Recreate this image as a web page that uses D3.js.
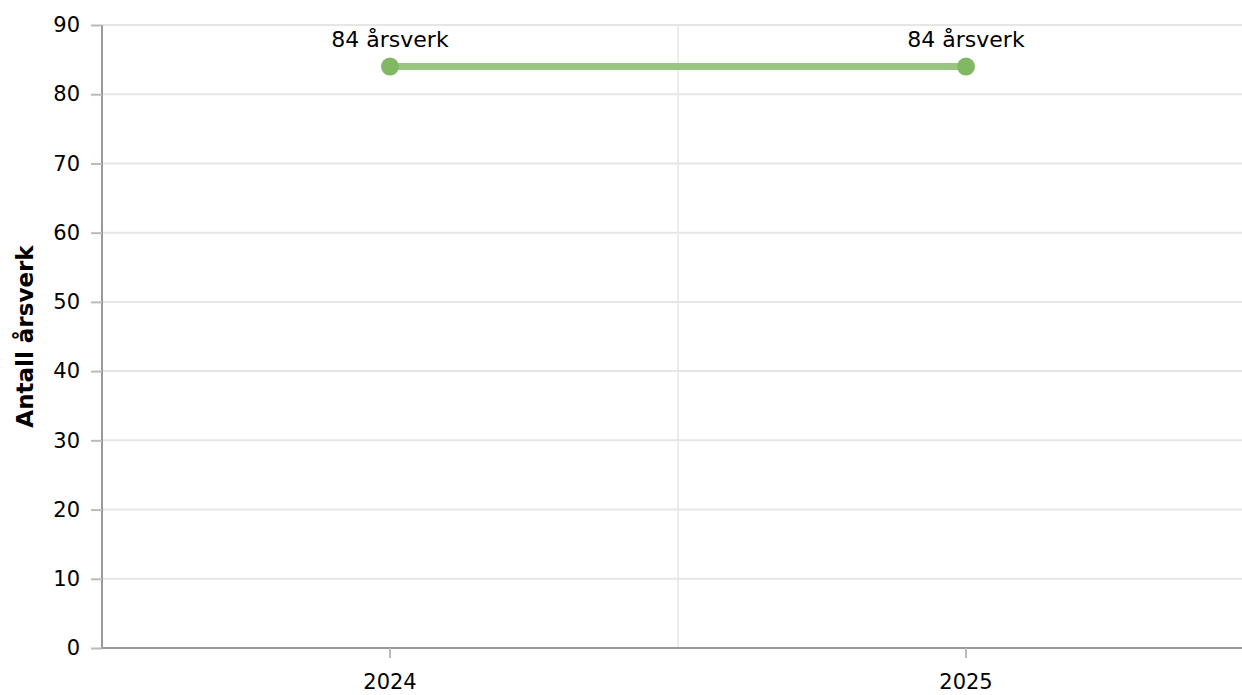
<!DOCTYPE html>
<html>
<head>
<meta charset="utf-8">
<script src="https://cdn.jsdelivr.net/npm/d3@7"></script>
<style>
  body { margin: 0; background: #fff; }
  svg { display: block; font-family: "DejaVu Sans", Verdana, sans-serif; }
</style>
</head>
<body>
<script>
// Chart data
const years = ["2024", "2025"];
const arsverk = [84, 84];
const pointLabels = ["84 årsverk", "84 årsverk"];
const yTicks = [0, 10, 20, 30, 40, 50, 60, 70, 80, 90];

const width = 1242;
const height = 695;
const margin = { top: 25, right: -12, bottom: 47, left: 102 };

const svg = d3.select("body").append("svg")
    .attr("width", width)
    .attr("height", height);

const x = d3.scaleBand()
    .domain(years)
    .range([margin.left, width - margin.right]);

const y = d3.scaleLinear()
    .domain([0, 90])
    .range([height - margin.bottom, margin.top]);

// horizontal gridlines
svg.append("g")
    .selectAll("line")
    .data(yTicks)
    .join("line")
    .attr("x1", margin.left)
    .attr("x2", width)
    .attr("y1", d => y(d))
    .attr("y2", d => y(d))
    .attr("stroke", "#e6e6e6")
    .attr("stroke-width", 2);

// vertical gridline between categories
svg.append("g")
    .selectAll("line")
    .data(years.slice(1))
    .join("line")
    .attr("x1", d => x(d))
    .attr("x2", d => x(d))
    .attr("y1", margin.top)
    .attr("y2", y(0))
    .attr("stroke", "#e6e6e6")
    .attr("stroke-width", 1.5);

// y axis
const yAxis = svg.append("g")
    .attr("transform", "translate(" + margin.left + ",0)")
    .call(d3.axisLeft(y).tickValues(yTicks).tickSize(11).tickPadding(11));
yAxis.select(".domain").attr("stroke", "#999").attr("stroke-width", 2)
    .attr("d", "M0," + y(90) + "V" + y(0));
yAxis.selectAll(".tick line").attr("stroke", "#bbb").attr("stroke-width", 2);
yAxis.selectAll("text").attr("font-size", "21px").attr("fill", "#000")
    .attr("font-family", "DejaVu Sans, Verdana, sans-serif");

// x axis
const xAxis = svg.append("g")
    .attr("transform", "translate(0," + y(0) + ")")
    .call(d3.axisBottom(x).tickSize(10).tickPadding(16));
xAxis.select(".domain").attr("stroke", "#999").attr("stroke-width", 2)
    .attr("d", "M" + margin.left + ",0H" + width);
xAxis.selectAll(".tick line").attr("stroke", "#bbb").attr("stroke-width", 2);
xAxis.selectAll("text").attr("font-size", "21px").attr("fill", "#000")
    .attr("font-family", "DejaVu Sans, Verdana, sans-serif");

// y axis title
svg.append("text")
    .attr("transform", "translate(33," + ((y(0) + y(90)) / 2) + ") rotate(-90)")
    .attr("text-anchor", "middle")
    .attr("font-size", "23px")
    .attr("font-weight", "bold")
    .text("Antall årsverk");

// line
const cx = d => x(d) + x.bandwidth() / 2;
const line = d3.line()
    .x((d, i) => cx(years[i]))
    .y(d => y(d));

svg.append("path")
    .datum(arsverk)
    .attr("d", line)
    .attr("fill", "none")
    .attr("stroke", "#98c57f")
    .attr("stroke-width", 7);

svg.append("g")
    .selectAll("circle")
    .data(arsverk)
    .join("circle")
    .attr("cx", (d, i) => cx(years[i]))
    .attr("cy", d => y(d))
    .attr("r", 9)
    .attr("fill", "#82b763");

svg.append("g")
    .selectAll("text")
    .data(arsverk)
    .join("text")
    .attr("x", (d, i) => cx(years[i]))
    .attr("y", d => y(d) - 20)
    .attr("text-anchor", "middle")
    .attr("font-size", "22px")
    .text((d, i) => pointLabels[i]);
</script>
</body>
</html>
